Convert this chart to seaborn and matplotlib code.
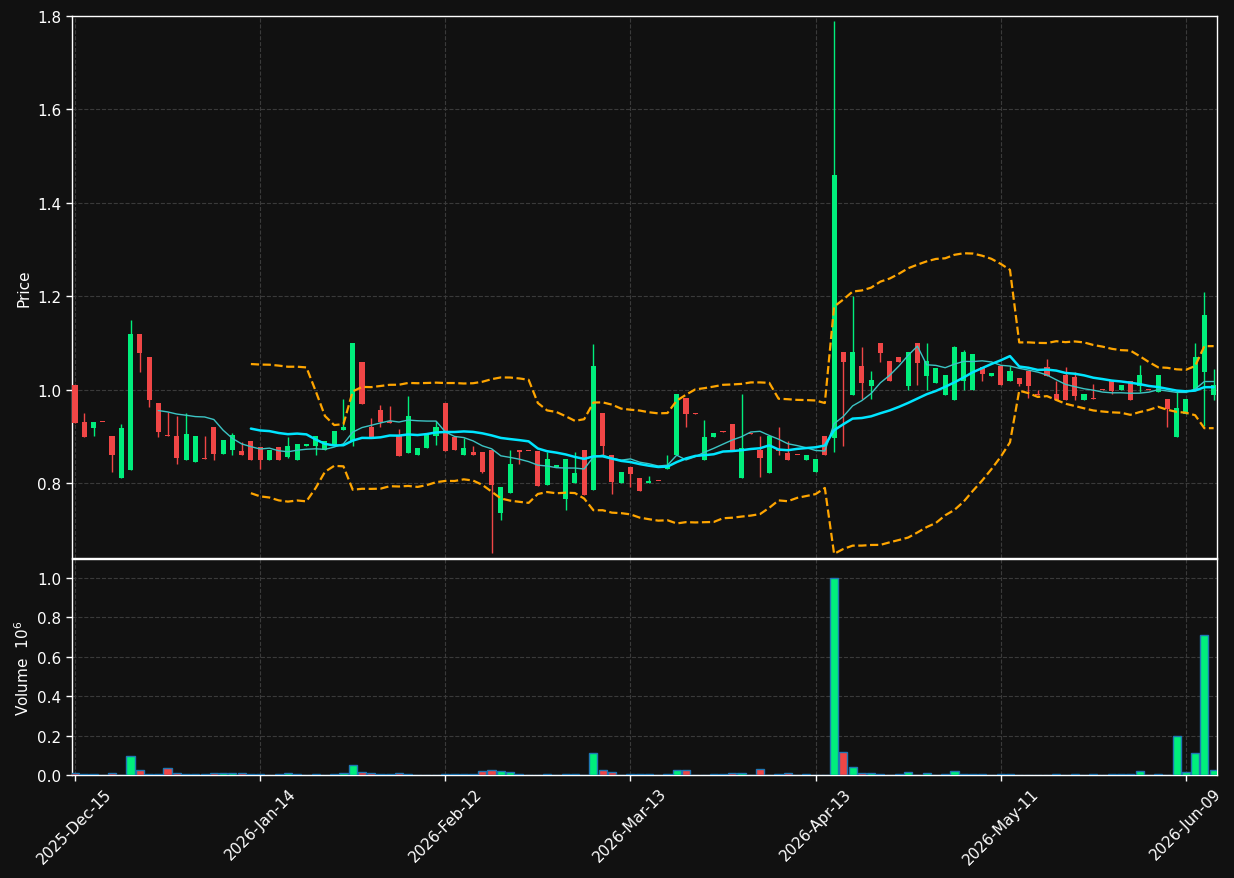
import numpy as np
import pandas as pd
import matplotlib
matplotlib.use("Agg")
import matplotlib.pyplot as plt
import seaborn as sns

# ---------------- data ----------------
opens = [1.009, 0.9305, 0.918, 0.931, 0.9007, 0.811, 0.828, 1.120, 1.069, 0.971,
         0.901, 0.901, 0.850, 0.846, 0.852, 0.920, 0.863, 0.870, 0.869, 0.890,
         0.877, 0.850, 0.877, 0.855, 0.850, 0.879, 0.879, 0.870, 0.882, 0.914,
         0.890, 1.060, 0.920, 0.956, 0.933, 0.900, 0.865, 0.861, 0.874, 0.901,
         0.971, 0.899, 0.859, 0.867, 0.867, 0.871, 0.735, 0.779, 0.870, 0.869,
         0.869, 0.795, 0.834, 0.765, 0.799, 0.871, 0.784, 0.950, 0.860, 0.799,
         0.835, 0.811, 0.799, 0.805, 0.829, 0.859, 0.982, 0.949, 0.850, 0.899,
         0.911, 0.926, 0.810, 0.906, 0.871, 0.821, 0.870, 0.865, 0.861, 0.850,
         0.824, 0.901, 0.896, 1.080, 0.989, 1.051, 1.008, 1.100, 1.061, 1.070,
         1.008, 1.100, 1.029, 1.014, 0.989, 0.978, 1.019, 1.000, 1.049, 1.030,
         1.051, 1.019, 1.024, 1.039, 0.990, 1.049, 0.990, 1.031, 1.026, 0.978,
         0.980, 1.001, 1.019, 0.999, 1.019, 1.008, 1.001, 0.995, 0.979, 0.899,
         0.947, 1.002, 1.038, 0.989]
highs = [1.009, 0.949, 0.930, 0.931, 0.9007, 0.926, 1.149, 1.120, 1.069, 0.971,
         0.951, 0.943, 0.949, 0.901, 0.901, 0.920, 0.892, 0.906, 0.887, 0.890,
         0.877, 0.871, 0.877, 0.898, 0.884, 0.884, 0.901, 0.890, 0.911, 0.979,
         1.099, 1.060, 0.940, 0.967, 0.964, 0.916, 0.986, 0.875, 0.904, 0.932,
         0.971, 0.899, 0.896, 0.879, 0.867, 0.871, 0.792, 0.870, 0.870, 0.869,
         0.869, 0.867, 0.839, 0.852, 0.867, 0.871, 1.098, 0.950, 0.860, 0.824,
         0.835, 0.811, 0.815, 0.805, 0.860, 0.990, 0.982, 0.949, 0.934, 0.907,
         0.911, 0.926, 0.991, 0.906, 0.900, 0.901, 0.919, 0.889, 0.861, 0.860,
         0.852, 0.901, 1.789, 1.080, 1.200, 1.091, 1.039, 1.100, 1.061, 1.070,
         1.080, 1.100, 1.099, 1.046, 1.031, 1.094, 1.085, 1.076, 1.049, 1.036,
         1.051, 1.051, 1.024, 1.039, 1.000, 1.065, 1.019, 1.049, 1.038, 0.990,
         1.012, 1.001, 1.019, 1.009, 1.019, 1.052, 1.001, 1.031, 0.979, 0.997,
         0.979, 1.099, 1.210, 1.045]
lows = [0.929, 0.899, 0.900, 0.930, 0.823, 0.811, 0.828, 1.038, 0.963, 0.899,
        0.900, 0.840, 0.850, 0.846, 0.851, 0.850, 0.862, 0.861, 0.861, 0.850,
        0.831, 0.850, 0.850, 0.853, 0.850, 0.879, 0.860, 0.870, 0.882, 0.914,
        0.880, 0.969, 0.899, 0.919, 0.929, 0.858, 0.865, 0.859, 0.874, 0.882,
        0.869, 0.870, 0.859, 0.859, 0.821, 0.651, 0.721, 0.779, 0.840, 0.868,
        0.793, 0.795, 0.834, 0.742, 0.799, 0.775, 0.784, 0.860, 0.776, 0.799,
        0.791, 0.782, 0.799, 0.804, 0.829, 0.859, 0.919, 0.948, 0.850, 0.899,
        0.910, 0.871, 0.810, 0.905, 0.813, 0.821, 0.861, 0.850, 0.860, 0.850,
        0.824, 0.859, 0.866, 0.880, 0.989, 0.980, 0.979, 1.060, 1.019, 1.060,
        1.000, 1.009, 1.000, 1.014, 0.989, 0.978, 1.000, 1.000, 1.019, 1.030,
        1.009, 1.019, 1.008, 0.983, 0.988, 1.029, 0.978, 0.978, 0.978, 0.978,
        0.979, 0.999, 0.990, 0.999, 0.978, 0.994, 0.999, 0.995, 0.919, 0.899,
        0.947, 1.002, 0.922, 0.978]
closes = [0.929, 0.899, 0.9305, 0.930, 0.859, 0.918, 1.120, 1.078, 0.978, 0.910,
          0.900, 0.853, 0.905, 0.901, 0.851, 0.863, 0.892, 0.902, 0.861, 0.850,
          0.850, 0.871, 0.850, 0.879, 0.884, 0.884, 0.901, 0.890, 0.911, 0.920,
          1.099, 0.969, 0.899, 0.930, 0.929, 0.858, 0.943, 0.875, 0.904, 0.920,
          0.869, 0.870, 0.875, 0.859, 0.823, 0.795, 0.792, 0.841, 0.866, 0.868,
          0.793, 0.852, 0.839, 0.852, 0.822, 0.775, 1.050, 0.879, 0.803, 0.824,
          0.820, 0.782, 0.805, 0.804, 0.839, 0.990, 0.948, 0.948, 0.899, 0.907,
          0.910, 0.871, 0.875, 0.905, 0.854, 0.901, 0.869, 0.850, 0.860, 0.860,
          0.852, 0.859, 1.460, 1.060, 1.080, 1.015, 1.021, 1.079, 1.019, 1.060,
          1.080, 1.057, 1.061, 1.046, 1.031, 1.091, 1.080, 1.076, 1.034, 1.036,
          1.009, 1.040, 1.012, 1.008, 0.988, 1.029, 0.978, 0.978, 0.986, 0.990,
          0.979, 0.999, 0.996, 1.009, 0.978, 1.031, 0.999, 1.031, 0.958, 0.960,
          0.979, 1.069, 1.159, 1.009]
volumes = [0.008, 0.003, 0.003, 0.0, 0.008, 0.002, 0.094, 0.024, 0.007, 0.007,
           0.034, 0.008, 0.003, 0.003, 0.003, 0.008, 0.008, 0.008, 0.008, 0.003,
           0.003, 0.0, 0.003, 0.008, 0.003, 0.0, 0.003, 0.0, 0.003, 0.008,
           0.049, 0.013, 0.008, 0.003, 0.003, 0.008, 0.003, 0.0, 0.0, 0.0,
           0.003, 0.003, 0.003, 0.003, 0.018, 0.024, 0.018, 0.013, 0.003, 0.0,
           0.0, 0.003, 0.0, 0.003, 0.003, 0.0, 0.114, 0.024, 0.013, 0.0,
           0.003, 0.003, 0.003, 0.0, 0.003, 0.024, 0.024, 0.0, 0.0, 0.003,
           0.003, 0.008, 0.008, 0.0, 0.029, 0.0, 0.003, 0.008, 0.0, 0.003,
           0.0, 0.0, 1.000, 0.117, 0.039, 0.008, 0.008, 0.003, 0.0, 0.003,
           0.013, 0.0, 0.008, 0.0, 0.003, 0.018, 0.003, 0.003, 0.003, 0.0,
           0.003, 0.003, 0.0, 0.0, 0.0, 0.0, 0.003, 0.0, 0.003, 0.0,
           0.003, 0.0, 0.003, 0.003, 0.003, 0.018, 0.0, 0.003, 0.0, 0.197,
           0.013, 0.114, 0.711, 0.024]
tick_positions = [0, 20, 40, 60, 80, 100, 120]
tick_labels = ["2025-Dec-15", "2026-Jan-14", "2026-Feb-12", "2026-Mar-13",
               "2026-Apr-13", "2026-May-11", "2026-Jun-09"]
price_ticks = [0.8, 1.0, 1.2, 1.4, 1.6, 1.8]
volume_ticks = [0.0, 0.2, 0.4, 0.6, 0.8, 1.0]

# ---------------- style ----------------
BG = "#111111"
UP = "#00ee7c"
DOWN = "#f04646"
sns.set_theme(style="dark", rc={
    "figure.facecolor": BG, "axes.facecolor": BG, "axes.edgecolor": "white",
    "axes.labelcolor": "white", "xtick.color": "white", "ytick.color": "white",
    "text.color": "white",
})
plt.rcParams["font.family"] = ["DejaVu Sans"]

df = pd.DataFrame({"idx": np.arange(len(closes)), "open": opens, "high": highs,
                   "low": lows, "close": closes, "volume": volumes})
df["ma10"] = df["close"].rolling(10).mean()
df["ma20"] = df["close"].rolling(20).mean()
sd = df["close"].rolling(20).std(ddof=0)
df["upper"] = df["ma20"] + 2 * sd
df["lower"] = df["ma20"] - 2 * sd
up = df["close"] >= df["open"]
colors = np.where(up, UP, DOWN)

fig = plt.figure(figsize=(12.34, 8.79), dpi=100, facecolor=BG)
ax = fig.add_axes([0.0583, 0.36405, 0.9279, 0.61661])
axv = fig.add_axes([0.0583, 0.11718, 0.9279, 0.24573], sharex=ax)

# candles
ax.vlines(df["idx"], df["low"], df["high"], colors=colors, lw=1, zorder=2)
body_bottom = np.minimum(df["open"], df["close"])
body_h = np.maximum(np.abs(df["close"] - df["open"]), 0.002)
ax.bar(df["idx"], body_h, bottom=body_bottom, width=0.55, color=colors,
       linewidth=0, zorder=3)

# moving averages / bands
sns.lineplot(data=df, x="idx", y="upper", ax=ax, color="#ffa500", lw=1.6,
             linestyle="--", zorder=4)
sns.lineplot(data=df, x="idx", y="lower", ax=ax, color="#ffa500", lw=1.6,
             linestyle="--", zorder=4)
sns.lineplot(data=df, x="idx", y="ma10", ax=ax, color="#3cc4c4", lw=1.0, zorder=5)
sns.lineplot(data=df, x="idx", y="ma20", ax=ax, color="#00e5ff", lw=1.8, zorder=6)

# volume
axv.bar(df["idx"], df["volume"], width=0.88, color=colors, edgecolor="#1f77b4",
        linewidth=1.0, zorder=3)

for a in (ax, axv):
    a.grid(True, linestyle="--", color="#3a3a3a", lw=0.8, zorder=0)
    for s in a.spines.values():
        s.set_color("white")
        s.set_linewidth(1.0)
    a.tick_params(axis="both", colors="white", labelsize=11, length=4, width=1,
                  direction="out", left=True, bottom=True)

ax.set_xlim(-0.33, 123.36)
ax.set_ylim(0.6394, 1.8)
ax.set_yticks(price_ticks)
ax.set_yticklabels([f"{v:.1f}" for v in price_ticks])
ax.set_ylabel("Price", fontsize=11, color="white")
ax.set_xlabel("")
ax.set_xticks(tick_positions)
ax.tick_params(axis="x", labelbottom=False)

axv.set_ylim(0, 1.096)
axv.set_yticks(volume_ticks)
axv.set_yticklabels([f"{v:.1f}" for v in volume_ticks])
axv.set_ylabel("Volume  $10^{6}$", fontsize=11, color="white")
axv.set_xlabel("")
axv.set_xticks(tick_positions)
axv.set_xticklabels(tick_labels, rotation=45, ha="center")

fig.savefig("out.png", dpi=100, facecolor=BG)
